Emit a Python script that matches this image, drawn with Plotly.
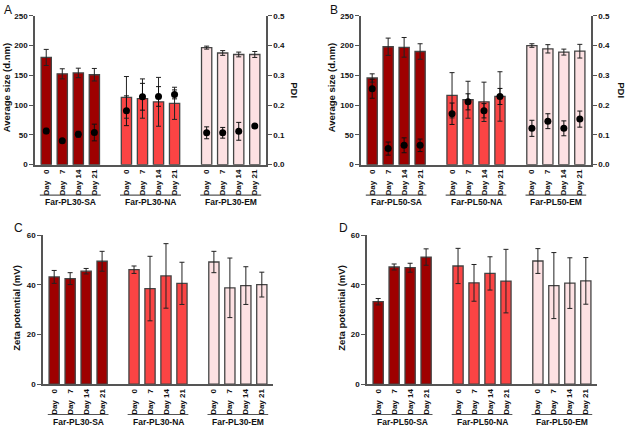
import plotly.graph_objects as go

W, H = 628, 443

days = ["Day\u00a0\u00a0\u00a00", "Day\u00a0\u00a0\u00a07", "Day\u00a014", "Day\u00a021"]
groups_30 = ["Far-PL30-SA", "Far-PL30-NA", "Far-PL30-EM"]
groups_50 = ["Far-PL50-SA", "Far-PL50-NA", "Far-PL50-EM"]

# Panel A: average size (d.nm) and PDI
size_A = [[180, 152.5, 154, 151], [113, 111, 105.5, 103], [196.5, 187.5, 185, 185]]
size_A_err = [[13.5, 8.5, 8, 10.5], [35, 33, 41, 27], [2.5, 4, 4, 5]]
pdi_A = [[0.113, 0.080, 0.102, 0.108], [0.181, 0.228, 0.229, 0.236], [0.107, 0.107, 0.112, 0.130]]
pdi_A_err = [[0.009, 0.0, 0.010, 0.028], [0.050, 0.045, 0.033, 0.015], [0.020, 0.018, 0.030, 0.0]]

# Panel B
size_B = [[145.5, 198, 197, 190], [116.5, 109, 105.5, 114.5], [200, 194.5, 189, 190.5]]
size_B_err = [[7, 14.5, 16.5, 13], [38, 31, 33, 41.5], [3, 7, 5, 11.5]]
pdi_B = [[0.255, 0.054, 0.065, 0.065], [0.171, 0.211, 0.181, 0.229], [0.122, 0.146, 0.122, 0.153]]
pdi_B_err = [[0.032, 0.022, 0.025, 0.021], [0.036, 0.027, 0.024, 0.027], [0.027, 0.025, 0.025, 0.027]]

# Panel C / D: zeta potential (mV)
zeta_C = [[43.2, 42.5, 45.5, 49.5], [46.1, 38.5, 43.6, 40.6], [49.2, 38.8, 39.7, 40.1]]
zeta_C_err = [[2.6, 2.4, 1.1, 4.0], [1.5, 13, 13, 8.5], [4.3, 12, 7.6, 5.0]]
zeta_D = [[33.2, 47.2, 46.9, 51.2], [47.6, 40.8, 44.6, 41.5], [49.6, 39.7, 40.7, 41.6]]
zeta_D_err = [[1.3, 1.2, 1.8, 3.3], [7.1, 7.4, 6.7, 12.8], [5.0, 13.3, 10.2, 9.4]]

colors = ["#9e0000", "#fb4444", "#fde1e3"]
outline = "#444444"
FONT = "Arial, Liberation Sans, sans-serif"

def pos(g):
    return [g * 5 + d for d in range(4)]

all_pos = [p for g in range(3) for p in pos(g)]
tick_text = days * 3

def px(x):
    return x / W

def py(y):
    return 1 - y / H

fig = go.Figure()

panels = [
    ("A", "x", "y", "y5", (35, 266), (12, 164), size_A, size_A_err, pdi_A, pdi_A_err, groups_30, 250, 50),
    ("B", "x2", "y2", "y6", (361, 591), (12, 164), size_B, size_B_err, pdi_B, pdi_B_err, groups_50, 250, 50),
    ("C", "x3", "y3", None, (43, 273), (236, 388), zeta_C, zeta_C_err, None, None, groups_30, 60, 20),
    ("D", "x4", "y4", None, (367, 597), (236, 388), zeta_D, zeta_D_err, None, None, groups_50, 60, 20),
]

layout = dict(
    width=W, height=H, margin=dict(l=0, r=0, t=0, b=0),
    plot_bgcolor="white", paper_bgcolor="white",
    showlegend=False, barmode="overlay",
    font=dict(family=FONT, size=9, color="#111"),
)
shapes = []
annotations = []

tickfont = dict(family=FONT, size=8, color="#111", weight="bold")

for (name, xa, ya, y2, xd, yd, data, err, pdi, pdierr, groups, ymax, dt) in panels:
    for g in range(3):
        fig.add_trace(go.Bar(
            x=pos(g), y=data[g], xaxis=xa, yaxis=ya, width=0.64,
            marker=dict(color=colors[g], line=dict(color=outline, width=1.3)),
            error_y=dict(type="data", array=err[g], color="#222", thickness=1, width=2.5),
        ))
    if pdi is not None:
        for g in range(3):
            fig.add_trace(go.Scatter(
                x=pos(g), y=pdi[g], xaxis=xa, yaxis=y2, mode="markers",
                marker=dict(color="black", size=7),
                error_y=dict(type="data", array=pdierr[g], color="#111", thickness=1, width=2.5),
            ))
    xkey = "xaxis" + xa[1:]
    ykey = "yaxis" + ya[1:]
    layout[xkey] = dict(
        domain=[px(xd[0]), px(xd[1])], anchor=ya, range=[-0.7, 13.7],
        showline=True, linecolor="#555", linewidth=1.5, ticks="", showgrid=False, zeroline=False,
        tickvals=all_pos, ticktext=tick_text, tickangle=-90, tickfont=tickfont,
    )
    layout[ykey] = dict(
        domain=[py(yd[1]), py(yd[0])], anchor=xa, range=[0, ymax], dtick=dt,
        showline=True, linecolor="#555", linewidth=1.5, ticks="outside", ticklen=4,
        tickcolor="#555", tickwidth=1.3, showgrid=False, zeroline=False, tickfont=tickfont,
    )
    if y2:
        layout["yaxis" + y2[1:]] = dict(
            overlaying=ya, side="right", anchor=xa, range=[0, 0.5], dtick=0.1, tickformat=".1f",
            showline=True, linecolor="#555", linewidth=1.5, ticks="outside", ticklen=4,
            tickcolor="#555", tickwidth=1.3, showgrid=False, zeroline=False, tickfont=tickfont,
        )
    bottom = yd[1]
    line_y = bottom + 31
    lab_y = bottom + 38.5
    for g in range(3):
        p = pos(g)
        shapes.append(dict(type="line", xref=xa, yref="paper", x0=p[0] - 0.4, x1=p[3] + 0.4,
                           y0=py(line_y), y1=py(line_y), line=dict(color="#555", width=1.2)))
        annotations.append(dict(x=(p[0] + p[3]) / 2, y=py(lab_y), xref=xa, yref="paper",
                                text=groups[g], showarrow=False, xanchor="center", yanchor="middle",
                                font=dict(family=FONT, size=8.5, color="#111", weight="bold")))

for txt, x, y in [("A", 2, 6), ("B", 328, 6), ("C", 12, 229), ("D", 337, 229)]:
    annotations.append(dict(x=px(x), y=py(y), xref="paper", yref="paper", text=txt, showarrow=False,
                            xanchor="left", yanchor="middle", font=dict(family=FONT, size=12, color="#111")))

for txt, x, y, ang in [
    ("Average size (d.nm)", 6, 86, -90),
    ("PDI", 295, 88, 90),
    ("Average size (d.nm)", 331, 86, -90),
    ("PDI", 622, 88, 90),
    ("Zeta potential (mV)", 17, 310, -90),
    ("Zeta potential (mV)", 342, 310, -90),
]:
    annotations.append(dict(x=px(x), y=py(y), xref="paper", yref="paper", text=txt, showarrow=False,
                            textangle=ang, xanchor="center", yanchor="middle",
                            font=dict(family=FONT, size=9.5, color="#111", weight="bold")))

layout["shapes"] = shapes
layout["annotations"] = annotations
fig.update_layout(**layout)
fig.write_html("out.html")
